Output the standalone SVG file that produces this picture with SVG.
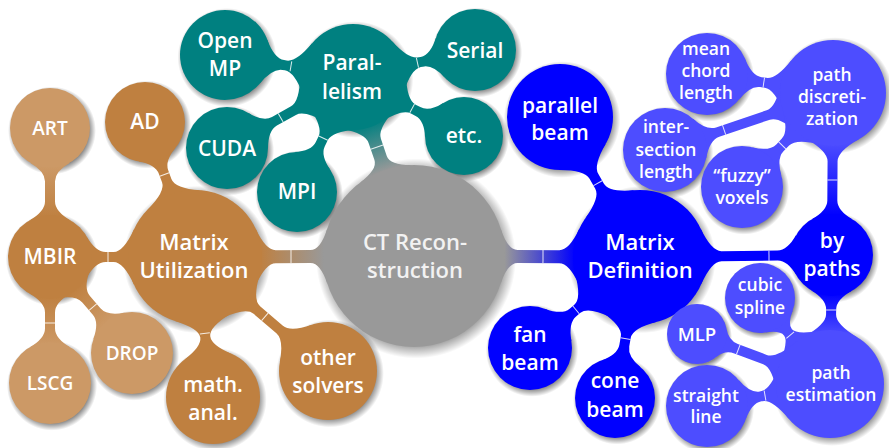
<svg xmlns="http://www.w3.org/2000/svg" width="889" height="448" viewBox="0 0 889 448">
  <defs>
    <!-- soft circular drop shadow, opaque core fading at the rim -->
    <radialGradient id="shade">
      <stop offset="0" stop-color="#000" stop-opacity="0.45"/>
      <stop offset="0.84" stop-color="#000" stop-opacity="0.45"/>
      <stop offset="1" stop-color="#000" stop-opacity="0"/>
    </radialGradient>
    <!-- colour switches along connection bars (parent -> child) -->
    <linearGradient id="gray-brown"><stop offset="0.05" stop-color="#999999"/><stop offset="0.95" stop-color="#BF8040"/></linearGradient>
    <linearGradient id="gray-teal"><stop offset="0.05" stop-color="#999999"/><stop offset="0.95" stop-color="#008080"/></linearGradient>
    <linearGradient id="gray-blue"><stop offset="0.05" stop-color="#999999"/><stop offset="0.95" stop-color="#0000FF"/></linearGradient>
    <linearGradient id="brown-light"><stop offset="0.05" stop-color="#BF8040"/><stop offset="0.95" stop-color="#CC9966"/></linearGradient>
    <linearGradient id="blue-light"><stop offset="0.05" stop-color="#0000FF"/><stop offset="0.95" stop-color="#4D4DFF"/></linearGradient>
  </defs>
  <style>
    .gray { fill: #999999; }
    .brown { fill: #BF8040; }
    .lbrown { fill: #CC9966; }
    .teal { fill: #008080; }
    .blue { fill: #0000FF; }
    .lblue { fill: #4D4DFF; }
    .seam { stroke: #ffffff; stroke-width: 1; stroke-opacity: 0.85; }
    text { font-family: "Open Sans", "Noto Sans", "DejaVu Sans", sans-serif; font-weight: 600; fill: #ffffff; text-anchor: middle; }
    .ct { font-size: 22px; fill: #f2f2f2; }
    .l1 { font-size: 22px; }
    .l2 { font-size: 21px; }
    .l3b { font-size: 19px; }
    .l3 { font-size: 17.5px; }
  </style>

  <!-- shadows under every concept circle -->
  <g id="shadows" fill="url(#shade)">
    <circle cx="416" cy="258.5" r="100"/>
    <circle cx="197" cy="259.5" r="73.7"/>
    <circle cx="52" cy="259.5" r="46.2"/>
    <circle cx="52" cy="130.5" r="44"/>
    <circle cx="52" cy="385.5" r="45.1"/>
    <circle cx="134" cy="355.5" r="45.1"/>
    <circle cx="147" cy="124.5" r="44"/>
    <circle cx="215" cy="399.5" r="51.7"/>
    <circle cx="330" cy="373.5" r="53.9"/>
    <circle cx="355" cy="79.5" r="58.3"/>
    <circle cx="227" cy="57.5" r="49.5"/>
    <circle cx="477" cy="52.5" r="45.1"/>
    <circle cx="229" cy="150.5" r="45.1"/>
    <circle cx="299" cy="194.5" r="44"/>
    <circle cx="466" cy="138.5" r="42.9"/>
    <circle cx="642" cy="259.5" r="73.7"/>
    <circle cx="562" cy="119.5" r="58.3"/>
    <circle cx="532" cy="350.5" r="46.2"/>
    <circle cx="617" cy="400.5" r="44"/>
    <circle cx="834" cy="257.5" r="45.1"/>
    <circle cx="835" cy="95.5" r="58.3"/>
    <circle cx="709" cy="76.5" r="45.1"/>
    <circle cx="667" cy="152.5" r="46.2"/>
    <circle cx="744" cy="189.5" r="45.1"/>
    <circle cx="832" cy="386.5" r="59.4"/>
    <circle cx="762" cy="300.5" r="38.5"/>
    <circle cx="699" cy="336.5" r="33"/>
    <circle cx="709" cy="408.5" r="45.1"/>
  </g>

  <!-- connection bars, each in a frame running from parent centre along +x -->
  <g id="connectors">
    <g id="e-ct-mu" transform="translate(414 256) rotate(179.74)">
      <path fill="url(#gray-brown)" d="M86.59 28Q93.54 6.5 103.54 6.5L138.24 6.5Q148.24 6.5 158.13 28L158.13 -28Q148.24 -6.5 138.24 -6.5L103.54 -6.5Q93.54 -6.5 86.59 -28Z"/>
      <line class="seam" x1="123" y1="-6.5" x2="123" y2="6.5"/>
    </g>
    <g id="e-ct-par" transform="translate(414 256) rotate(-108.82)">
      <path fill="url(#gray-teal)" d="M86.59 28Q93.54 6.5 103.54 6.5L121.66 6.5Q131.66 6.5 143.21 26.5L143.21 -26.5Q131.66 -6.5 121.66 -6.5L103.54 -6.5Q93.54 -6.5 86.59 -28Z"/>
      <line class="seam" x1="115" y1="-6.5" x2="115" y2="6.5"/>
    </g>
    <g id="e-ct-md" transform="translate(414 256) rotate(0.25)">
      <path fill="url(#gray-blue)" d="M86.59 28Q93.54 6.5 103.54 6.5L145.24 6.5Q155.24 6.5 165.13 28L165.13 -28Q155.24 -6.5 145.24 -6.5L103.54 -6.5Q93.54 -6.5 86.59 -28Z"/>
      <line class="seam" x1="129" y1="-6.5" x2="129" y2="6.5"/>
    </g>

    <g id="e-mu-mbir" transform="translate(195 257) rotate(180)">
      <path class="brown" d="M60.87 28Q71.45 5 81.45 5L89.39 5Q99.39 5 108.63 21L108.63 -21Q99.39 -5 89.39 -5L81.45 -5Q71.45 -5 60.87 -28Z"/>
      <line class="seam" x1="87" y1="-5" x2="87" y2="5"/>
    </g>
    <g id="e-mu-ad" transform="translate(195 257) rotate(-110.32)">
      <path class="brown" d="M60.87 28Q71.45 5 81.45 5L90.66 5Q100.66 5 109.32 20L109.32 -20Q100.66 -5 90.66 -5L81.45 -5Q71.45 -5 60.87 -28Z"/>
      <line class="seam" x1="88" y1="-5" x2="88" y2="5"/>
    </g>
    <g id="e-mu-ma" transform="translate(195 257) rotate(82.67)">
      <path class="brown" d="M60.87 28Q71.45 5 80.61 5Q89.77 5 100.45 23.5L100.45 -23.5Q89.77 -5 80.61 -5Q71.45 -5 60.87 -28Z"/>
      <line class="seam" x1="77" y1="-5" x2="77" y2="5"/>
    </g>
    <g id="e-mu-os" transform="translate(195 257) rotate(40.6)">
      <path class="brown" d="M60.87 28Q71.45 5 81.45 5L111.48 5Q121.48 5 132.74 24.5L132.74 -24.5Q121.48 -5 111.48 -5L81.45 -5Q71.45 -5 60.87 -28Z"/>
      <line class="seam" x1="92" y1="-5" x2="92" y2="5"/>
    </g>

    <g id="e-mbir-art" transform="translate(50 257) rotate(-90)">
      <path fill="url(#brown-light)" d="M36.37 21Q45.61 5 55.61 5L75.7 5Q85.7 5 94.36 20L94.36 -20Q85.7 -5 75.7 -5L55.61 -5Q45.61 -5 36.37 -21Z"/>
    </g>
    <g id="e-mbir-lscg" transform="translate(50 257) rotate(90)">
      <path fill="url(#brown-light)" d="M36.37 21Q45.61 5 55.61 5L71.54 5Q81.54 5 90.49 20.5L90.49 -20.5Q81.54 -5 71.54 -5L55.61 -5Q45.61 -5 36.37 -21Z"/>
      <line class="seam" x1="66" y1="-5" x2="66" y2="5"/>
    </g>
    <g id="e-mbir-drop" transform="translate(50 257) rotate(49.5)">
      <path fill="url(#brown-light)" d="M36.37 21Q45.61 5 55.61 5L71.79 5Q81.79 5 90.74 20.5L90.74 -20.5Q81.79 -5 71.79 -5L55.61 -5Q45.61 -5 36.37 -21Z"/>
      <line class="seam" x1="66" y1="-5" x2="66" y2="5"/>
    </g>

    <g id="e-par-omp" transform="translate(353 77) rotate(-170.25)">
      <path class="teal" d="M45.9 26.5Q58.31 5 68.31 5L70.8 5Q80.8 5 90.91 22.5L90.91 -22.5Q80.8 -5 70.8 -5L68.31 -5Q58.31 -5 45.9 -26.5Z"/>
      <line class="seam" x1="63" y1="-5" x2="63" y2="5"/>
    </g>
    <g id="e-par-ser" transform="translate(353 77) rotate(-12.48)">
      <path class="teal" d="M45.9 26.5Q58.31 5 68.31 5L70.49 5Q80.49 5 89.44 20.5L89.44 -20.5Q80.49 -5 70.49 -5L68.31 -5Q58.31 -5 45.9 -26.5Z"/>
      <line class="seam" x1="66" y1="-5" x2="66" y2="5"/>
    </g>
    <g id="e-par-cuda" transform="translate(353 77) rotate(150.6)">
      <path class="teal" d="M45.9 26.5Q58.31 5 68.31 5L90.17 5Q100.17 5 109.12 20.5L109.12 -20.5Q100.17 -5 90.17 -5L68.31 -5Q58.31 -5 45.9 -26.5Z"/>
      <line class="seam" x1="83" y1="-5" x2="83" y2="5"/>
    </g>
    <g id="e-par-mpi" transform="translate(353 77) rotate(115.97)">
      <path class="teal" d="M45.9 26.5Q58.31 5 68.31 5L74.61 5Q84.61 5 93.27 20L93.27 -20Q84.61 -5 74.61 -5L68.31 -5Q58.31 -5 45.9 -26.5Z"/>
      <line class="seam" x1="68" y1="-5" x2="68" y2="5"/>
    </g>
    <g id="e-par-etc" transform="translate(353 77) rotate(27.99)">
      <path class="teal" d="M45.9 26.5Q58.31 5 68.31 5L73.56 5Q83.56 5 91.94 19.5L91.94 -19.5Q83.56 -5 73.56 -5L68.31 -5Q58.31 -5 45.9 -26.5Z"/>
      <line class="seam" x1="67" y1="-5" x2="67" y2="5"/>
    </g>

    <g id="e-md-pb" transform="translate(640 257) rotate(-119.74)">
      <path class="blue" d="M60.87 28Q71.45 5 81.45 5L92.94 5Q102.94 5 115.35 26.5L115.35 -26.5Q102.94 -5 92.94 -5L81.45 -5Q71.45 -5 60.87 -28Z"/>
      <line class="seam" x1="85" y1="-5" x2="85" y2="5"/>
    </g>
    <g id="e-md-fb" transform="translate(640 257) rotate(140.4)">
      <path class="blue" d="M60.87 28Q71.45 5 81.45 5L87.15 5Q97.15 5 106.39 21L106.39 -21Q97.15 -5 87.15 -5L81.45 -5Q71.45 -5 60.87 -28Z"/>
      <line class="seam" x1="83" y1="-5" x2="83" y2="5"/>
    </g>
    <g id="e-md-cb" transform="translate(640 257) rotate(100.05)">
      <path class="blue" d="M60.87 28Q71.45 5 81.45 5L89.9 5Q99.9 5 108.56 20L108.56 -20Q99.9 -5 89.9 -5L81.45 -5Q71.45 -5 60.87 -28Z"/>
      <line class="seam" x1="83" y1="-5" x2="83" y2="5"/>
    </g>
    <g id="e-md-bp" transform="translate(640 257) rotate(-0.6)">
      <path class="blue" d="M60.87 28Q71.45 5 81.45 5L137.55 5Q147.55 5 156.5 20.5L156.5 -20.5Q147.55 -5 137.55 -5L81.45 -5Q71.45 -5 60.87 -28Z"/>
      <line class="seam" x1="129" y1="-5" x2="129" y2="5"/>
    </g>

    <g id="e-bp-pd" transform="translate(832 255) rotate(-89.65)">
      <path fill="url(#blue-light)" d="M35.51 20.5Q44.46 5 54.46 5L93.69 5Q103.69 5 116.1 26.5L116.1 -26.5Q103.69 -5 93.69 -5L54.46 -5Q44.46 -5 35.51 -20.5Z"/>
      <line class="seam" x1="75" y1="-5" x2="75" y2="5"/>
    </g>
    <g id="e-bp-pe" transform="translate(832 255) rotate(90.89)">
      <path fill="url(#blue-light)" d="M35.51 20.5Q44.46 5 54.46 5L59.55 5Q69.55 5 82.26 27L82.26 -27Q69.55 -5 59.55 -5L54.46 -5Q44.46 -5 35.51 -20.5Z"/>
      <line class="seam" x1="55" y1="-5" x2="55" y2="5"/>
    </g>

    <g id="e-pd-mcl" transform="translate(833 93) rotate(-171.42)">
      <path class="lblue" d="M45.9 26.5Q58.31 5 68.31 5L72.96 5Q82.96 5 91.91 20.5L91.91 -20.5Q82.96 -5 72.96 -5L68.31 -5Q58.31 -5 45.9 -26.5Z"/>
      <line class="seam" x1="70" y1="-5" x2="70" y2="5"/>
    </g>
    <g id="e-pd-il" transform="translate(833 93) rotate(161.26)">
      <path class="lblue" d="M45.9 26.5Q58.31 5 68.31 5L121.8 5Q131.8 5 141.04 21L141.04 -21Q131.8 -5 121.8 -5L68.31 -5Q58.31 -5 45.9 -26.5Z"/>
      <line class="seam" x1="115" y1="-5" x2="115" y2="5"/>
    </g>
    <g id="e-pd-fv" transform="translate(833 93) rotate(134.07)">
      <path class="lblue" d="M45.9 26.5Q58.31 5 68.31 5L76.37 5Q86.37 5 95.32 20.5L95.32 -20.5Q86.37 -5 76.37 -5L68.31 -5Q58.31 -5 45.9 -26.5Z"/>
      <line class="seam" x1="73" y1="-5" x2="73" y2="5"/>
    </g>

    <g id="e-pe-cs" transform="translate(830 384) rotate(-129.15)">
      <path class="lblue" d="M46.76 27Q59.47 5 66.42 5Q73.36 5 80.58 17.5L80.58 -17.5Q73.36 -5 66.42 -5Q59.47 -5 46.76 -27Z"/>
      <line class="seam" x1="63" y1="-5" x2="63" y2="5"/>
    </g>
    <g id="e-pe-mlp" transform="translate(830 384) rotate(-159.4)">
      <path class="lblue" d="M46.76 27Q59.47 5 69.47 5L100.34 5Q110.34 5 116.11 15L116.11 -15Q110.34 -5 100.34 -5L69.47 -5Q59.47 -5 46.76 -27Z"/>
      <line class="seam" x1="98" y1="-5" x2="98" y2="5"/>
    </g>
    <g id="e-pe-sl" transform="translate(830 384) rotate(169.86)">
      <path class="lblue" d="M46.76 27Q59.47 5 69.47 5L70.49 5Q80.49 5 89.44 20.5L89.44 -20.5Q80.49 -5 70.49 -5L69.47 -5Q59.47 -5 46.76 -27Z"/>
      <line class="seam" x1="66" y1="-5" x2="66" y2="5"/>
    </g>
  </g>

  <!-- root concept -->
  <g id="n-ct"><circle class="gray" cx="414" cy="256" r="91"/>
    <text class="ct"><tspan x="415" y="250">CT Recon-</tspan><tspan x="415" y="278">struction</tspan></text></g>

  <!-- Matrix Utilization branch -->
  <g id="n-mu"><circle class="brown" cx="195" cy="257" r="67"/>
    <text class="l1"><tspan x="194" y="250">Matrix</tspan><tspan x="194" y="278">Utilization</tspan></text></g>
  <g id="n-mbir"><circle class="brown" cx="50" cy="257" r="42"/>
    <text class="l2" x="50" y="264">MBIR</text></g>
  <g id="n-art"><circle class="lbrown" cx="50" cy="128" r="40"/>
    <text class="l3b" x="50" y="135">ART</text></g>
  <g id="n-lscg"><circle class="lbrown" cx="50" cy="383" r="41"/>
    <text class="l3b" x="50" y="390">LSCG</text></g>
  <g id="n-drop"><circle class="lbrown" cx="132" cy="353" r="41"/>
    <text class="l3b" x="132" y="360">DROP</text></g>
  <g id="n-ad"><circle class="brown" cx="145" cy="122" r="40"/>
    <text class="l2" x="145" y="129">AD</text></g>
  <g id="n-ma"><circle class="brown" cx="213" cy="397" r="47"/>
    <text class="l2"><tspan x="213" y="392">math.</tspan><tspan x="213" y="420">anal.</tspan></text></g>
  <g id="n-os"><circle class="brown" cx="328" cy="371" r="49"/>
    <text class="l2"><tspan x="328" y="365">other</tspan><tspan x="328" y="393">solvers</tspan></text></g>

  <!-- Parallelism branch -->
  <g id="n-par"><circle class="teal" cx="353" cy="77" r="53"/>
    <text class="l2"><tspan x="352" y="70">Paral-</tspan><tspan x="352" y="98.5">lelism</tspan></text></g>
  <g id="n-omp"><circle class="teal" cx="225" cy="55" r="45"/>
    <text class="l2"><tspan x="225" y="48">Open</tspan><tspan x="225" y="76">MP</tspan></text></g>
  <g id="n-ser"><circle class="teal" cx="475" cy="50" r="41"/>
    <text class="l2" x="475" y="58">Serial</text></g>
  <g id="n-cuda"><circle class="teal" cx="227" cy="148" r="41"/>
    <text class="l2" x="227" y="156">CUDA</text></g>
  <g id="n-mpi"><circle class="teal" cx="297" cy="192" r="40"/>
    <text class="l2" x="297" y="199">MPI</text></g>
  <g id="n-etc"><circle class="teal" cx="464" cy="136" r="39"/>
    <text class="l2" x="464" y="143">etc.</text></g>

  <!-- Matrix Definition branch -->
  <g id="n-md"><circle class="blue" cx="640" cy="257" r="67"/>
    <text class="l1"><tspan x="640" y="250">Matrix</tspan><tspan x="640" y="277.7">Definition</tspan></text></g>
  <g id="n-pb"><circle class="blue" cx="560" cy="117" r="53"/>
    <text class="l2"><tspan x="560" y="112.7">parallel</tspan><tspan x="560" y="140">beam</tspan></text></g>
  <g id="n-fb"><circle class="blue" cx="530" cy="348" r="42"/>
    <text class="l2"><tspan x="530" y="341.7">fan</tspan><tspan x="530" y="370">beam</tspan></text></g>
  <g id="n-cb"><circle class="blue" cx="615" cy="398" r="40"/>
    <text class="l2"><tspan x="615" y="388">cone</tspan><tspan x="615" y="416.7">beam</tspan></text></g>
  <g id="n-bp"><circle class="blue" cx="832" cy="255" r="41"/>
    <text class="l2"><tspan x="832" y="248">by</tspan><tspan x="832" y="275.7">paths</tspan></text></g>
  <g id="n-pd"><circle class="lblue" cx="833" cy="93" r="53"/>
    <text class="l3"><tspan x="832" y="81">path</tspan><tspan x="832" y="103">discreti-</tspan><tspan x="832" y="125">zation</tspan></text></g>
  <g id="n-mcl"><circle class="lblue" cx="707" cy="74" r="41"/>
    <text class="l3"><tspan x="706" y="55">mean</tspan><tspan x="706" y="77">chord</tspan><tspan x="706" y="99">length</tspan></text></g>
  <g id="n-il"><circle class="lblue" cx="665" cy="150" r="42"/>
    <text class="l3"><tspan x="666" y="132.7">inter-</tspan><tspan x="666" y="155.5">section</tspan><tspan x="666" y="178.3">length</tspan></text></g>
  <g id="n-fv"><circle class="lblue" cx="742" cy="187" r="41"/>
    <text class="l3"><tspan x="742" y="181.7">“fuzzy”</tspan><tspan x="742" y="204">voxels</tspan></text></g>
  <g id="n-pe"><circle class="lblue" cx="830" cy="384" r="54"/>
    <text class="l3"><tspan x="831" y="379">path</tspan><tspan x="831" y="400.7">estimation</tspan></text></g>
  <g id="n-cs"><circle class="lblue" cx="760" cy="298" r="35"/>
    <text class="l3"><tspan x="760" y="291">cubic</tspan><tspan x="760" y="313.5">spline</tspan></text></g>
  <g id="n-mlp"><circle class="lblue" cx="697" cy="334" r="30"/>
    <text class="l3" style="font-size:18.5px" x="697" y="341">MLP</text></g>
  <g id="n-sl"><circle class="lblue" cx="707" cy="406" r="41"/>
    <text class="l3"><tspan x="706" y="401.7">straight</tspan><tspan x="706" y="423.3">line</tspan></text></g>
</svg>
